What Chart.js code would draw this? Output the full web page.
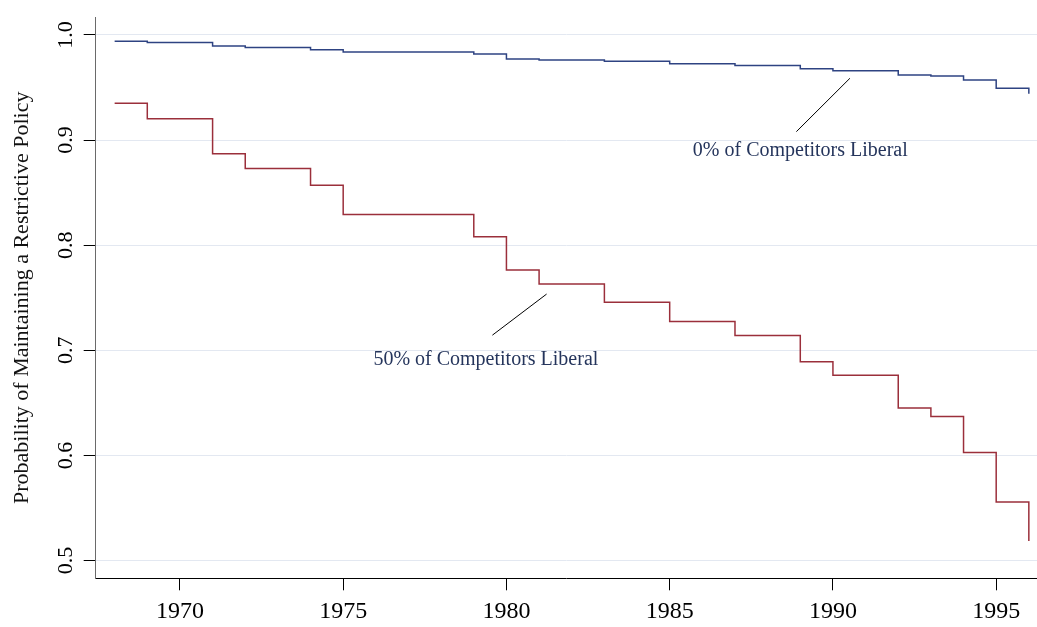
<!DOCTYPE html>
<html>
<head>
<meta charset="utf-8">
<script src="https://cdn.jsdelivr.net/npm/chart.js@4.4.1/dist/chart.umd.min.js"></script>
<style>
  html, body { margin: 0; padding: 0; background: #ffffff; }
  #wrap { width: 1037px; height: 627px; position: relative; }
</style>
</head>
<body>
<div id="wrap"><canvas id="c"></canvas></div>
<script>
// ---- data ----
const years = [1968,1969,1970,1971,1972,1973,1974,1975,1976,1977,1978,1979,1980,1981,1982,
               1983,1984,1985,1986,1987,1988,1989,1990,1991,1992,1993,1994,1995,1996];
const zeroPctLiberal = [0.9941,0.9928,0.9928,0.9894,0.9881,0.9881,0.9860,0.9838,0.9838,0.9838,0.9838,
                        0.9819,0.9772,0.9763,0.9763,0.9750,0.9750,0.9725,0.9725,0.9710,0.9710,
                        0.9679,0.9660,0.9660,0.9619,0.9610,0.9572,0.9494,0.9441];
const fiftyPctLiberal = [0.9351,0.9204,0.9204,0.8870,0.8730,0.8730,0.8570,0.8293,0.8293,0.8293,0.8293,
                         0.8080,0.7765,0.7631,0.7631,0.7458,0.7458,0.7275,0.7275,0.7141,0.7141,
                         0.6891,0.6763,0.6763,0.6451,0.6370,0.6027,0.5556,0.5187];
const yTickValues = [0.5, 0.6, 0.7, 0.8, 0.9, 1.0];
const xTickValues = [1970, 1975, 1980, 1985, 1990, 1995];
const seriesLabels = ['0% of Competitors Liberal', '50% of Competitors Liberal'];
const yAxisTitle = 'Probability of Maintaining a Restrictive Policy';

// callout notes, anchored in data units (year, probability)
const notes = [
  { text: seriesLabels[0], from: [1990.52, 0.9588], to: [1988.88, 0.9080], at: [1989.00, 0.8901] },
  { text: seriesLabels[1], from: [1981.23, 0.7535], to: [1979.57, 0.7144], at: [1979.37, 0.6907] }
];

const SERIF = '"Liberation Serif", "Times New Roman", serif';
const BLUE = '#2e4382';
const RED = '#9b2f3b';

const notesPlugin = {
  id: 'notes',
  afterDatasetsDraw(chart) {
    const { ctx } = chart;
    const xs = chart.scales.x, ys = chart.scales.y;
    ctx.save();
    notes.forEach(n => {
      ctx.strokeStyle = '#000';
      ctx.lineWidth = 1;
      ctx.beginPath();
      ctx.moveTo(xs.getPixelForValue(n.from[0]), ys.getPixelForValue(n.from[1]));
      ctx.lineTo(xs.getPixelForValue(n.to[0]), ys.getPixelForValue(n.to[1]));
      ctx.stroke();
      ctx.fillStyle = '#25355c';
      ctx.font = '20px ' + SERIF;
      ctx.textAlign = 'center';
      ctx.textBaseline = 'middle';
      ctx.fillText(n.text, xs.getPixelForValue(n.at[0]), ys.getPixelForValue(n.at[1]));
    });
    ctx.restore();
  }
};

new Chart(document.getElementById('c'), {
  type: 'line',
  data: {
    datasets: [
      {
        label: seriesLabels[0],
        data: years.map((yr, i) => ({ x: yr, y: zeroPctLiberal[i] })),
        borderColor: BLUE,
        borderWidth: 1.5,
        pointRadius: 0,
        stepped: true,
        fill: false
      },
      {
        label: seriesLabels[1],
        data: years.map((yr, i) => ({ x: yr, y: fiftyPctLiberal[i] })),
        borderColor: RED,
        borderWidth: 1.5,
        pointRadius: 0,
        stepped: true,
        fill: false
      }
    ]
  },
  options: {
    animation: false,
    responsive: true,
    maintainAspectRatio: false,
    layout: { padding: { top: 8, left: 0, right: 0, bottom: 0 } },
    plugins: { legend: { display: false }, tooltip: { enabled: false } },
    scales: {
      x: {
        type: 'linear',
        min: 1967.42,
        max: 1996.25,
        afterBuildTicks: s => { s.ticks = xTickValues.map(v => ({ value: v })); },
        afterFit: s => { s.height = 48.7; },
        ticks: {
          font: { family: SERIF, size: 24 },
          color: '#000',
          padding: 7,
          maxRotation: 0,
          autoSkip: false,
          callback: v => String(v)
        },
        grid: { drawOnChartArea: false, drawTicks: true, tickColor: '#000', tickLength: 12, tickWidth: 1 },
        border: { display: true, color: '#000', width: 1 }
      },
      y: {
        type: 'linear',
        min: 0.4831,
        max: 1.0169,
        afterBuildTicks: s => { s.ticks = yTickValues.map(v => ({ value: v })); },
        afterFit: s => { s.width = 95.7; },
        ticks: {
          font: { family: SERIF, size: 22 },
          color: '#000',
          padding: 4,
          minRotation: 90,
          maxRotation: 90,
          crossAlign: 'center',
          callback: v => Number(v).toFixed(1)
        },
        title: {
          display: true,
          text: yAxisTitle,
          font: { family: SERIF, size: 22 },
          color: '#111',
          padding: { top: 9, bottom: 0 }
        },
        grid: { color: '#e3e8f1', lineWidth: 1, drawTicks: true, tickColor: '#000', tickLength: 12, tickWidth: 1 },
        border: { display: true, color: '#6a6a6a', width: 1 }
      }
    }
  },
  plugins: [notesPlugin]
});
</script>
</body>
</html>
